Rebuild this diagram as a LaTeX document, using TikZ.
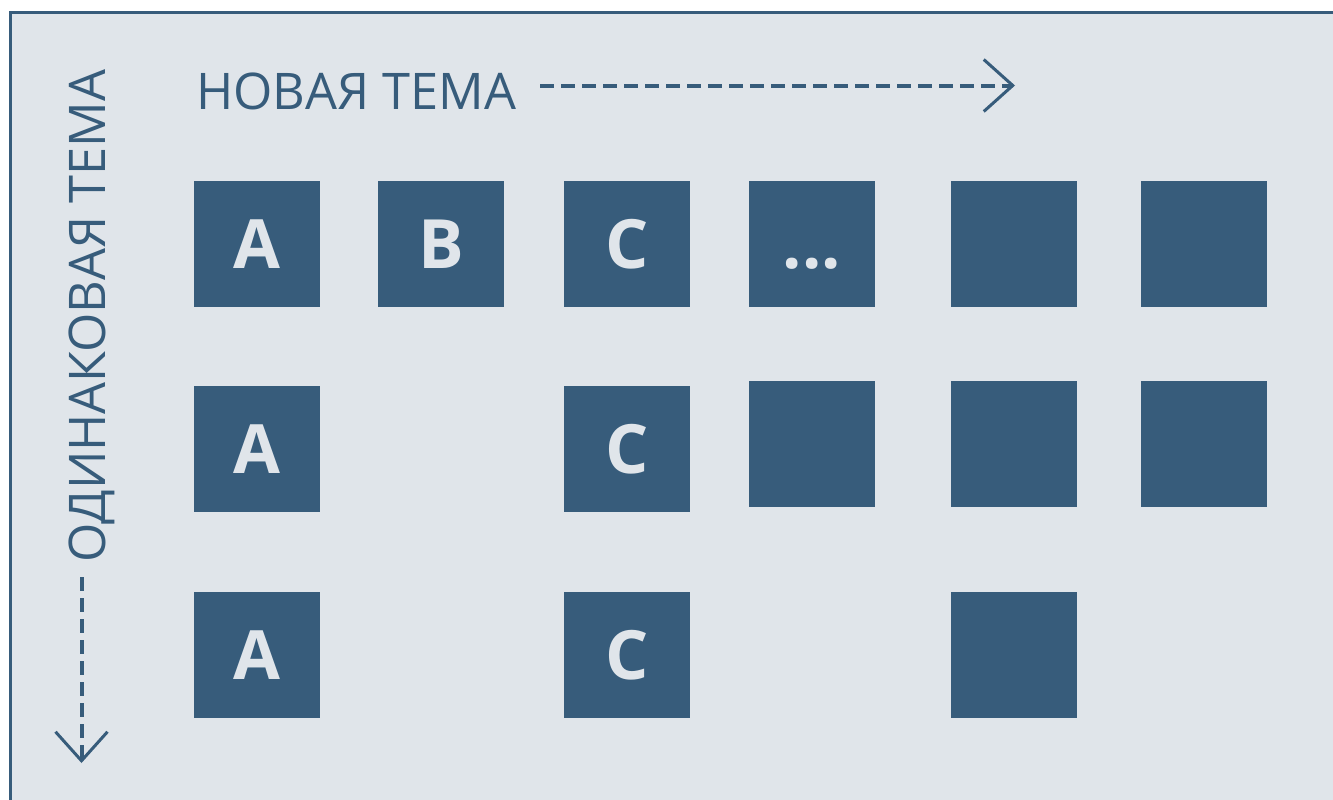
\documentclass[tikz,border=0pt]{standalone}
\usepackage{fontspec}
\setmainfont{Open Sans}
\usepackage{tikz}
\usetikzlibrary{arrows.meta, positioning}
\definecolor{themeblue}{HTML}{375C7B}
\definecolor{themebg}{HTML}{E0E5EA}

\begin{document}
\begin{tikzpicture}[x=1pt, y=-1pt,
    tile/.style={fill=themeblue, minimum size=126pt, inner sep=0pt, text=themebg, text height=49pt, text depth=0pt, font=\fontsize{68}{68}\selectfont\bfseries},
    caption/.style={text=themeblue, inner sep=0pt, font=\fontsize{50.5}{50.5}\selectfont},
    flow/.style={draw=themeblue, line width=4pt, dash pattern=on 14pt off 7pt, -{Straight Barb[length=29pt, width=52pt, line width=3pt]}}]
    \useasboundingbox (0,0) rectangle (1333,800);
    \fill[themebg] (10,13) rectangle (1333,800);
    \draw[themeblue, line width=3pt] (10,800) -- (10,13) -- (1333,13);

    % axis captions
    \node[caption, anchor=base west] (newtopic) at (196,110) {НОВАЯ ТЕМА};
    \node[caption, rotate=90, anchor=base west] (sametopic) at (105,563) {ОДИНАКОВАЯ ТЕМА};
    \coordinate (hstart) at (540,85.5);
    \coordinate (hend) at (1015,85.5);
    \coordinate (vstart) at (81.5,577);
    \coordinate (vend) at (81.5,763);
    \draw[flow] (hstart) -- (hend);
    \draw[flow] (vstart) -- (vend);

    % first row
    \node[tile] (a1) at (257,243.5) {A};
    \node[tile] (b1) at (441,243.5) {B};
    \node[tile] (c1) at (627,243.5) {C};
    \node[tile] (d1) at (812,243.5) {...};
    \node[tile] (e1) at (1014,243.5) {};
    \node[tile] (f1) at (1204,243.5) {};

    % second row
    \node[tile] (a2) at (257,449) {A};
    \node[tile] (c2) at (627,449) {C};
    \node[tile] (d2) at (812,444) {};
    \node[tile] (e2) at (1014,444) {};
    \node[tile] (f2) at (1204,444) {};

    % third row
    \node[tile] (a3) at (257,655) {A};
    \node[tile] (c3) at (627,655) {C};
    \node[tile] (e3) at (1014,655) {};
\end{tikzpicture}
\end{document}
